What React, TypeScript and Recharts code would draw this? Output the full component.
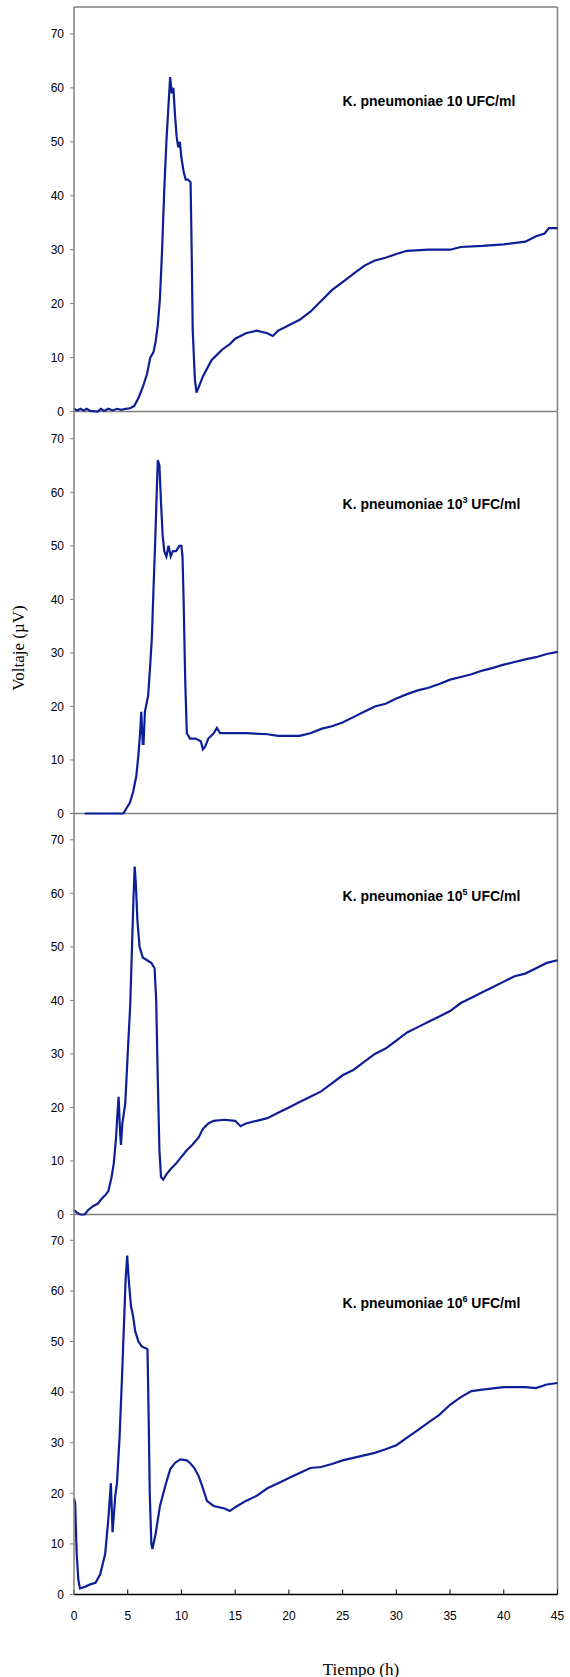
import React from 'react';
import { LineChart, Line, XAxis, YAxis, ReferenceLine, ReferenceDot } from 'recharts';

// time (h), voltage (µV)
const K10: [number, number][] = [
  [0, 0.5], [0.3, 0.2], [0.6, 0.5], [0.9, 0.2], [1.2, 0.5], [1.5, 0.1], [2.2, 0], [2.5, 0.5],
  [2.8, 0.1], [3.2, 0.5], [3.6, 0.2], [4, 0.5], [4.4, 0.3], [4.8, 0.5], [5.2, 0.6], [5.6, 1],
  [6, 2.5], [6.4, 4.5], [6.8, 7], [7.1, 10], [7.4, 11], [7.6, 13], [7.8, 16], [8, 21],
  [8.2, 30], [8.4, 41], [8.6, 50], [8.8, 57], [8.95, 62], [9.1, 59], [9.25, 60], [9.4, 55],
  [9.55, 51], [9.7, 49], [9.85, 50], [10, 47], [10.2, 44.5], [10.4, 43], [10.6, 43], [10.85, 42.5],
  [10.95, 30], [11.05, 15], [11.25, 6], [11.4, 3.5], [11.7, 5], [12, 6.5], [12.4, 8], [12.8, 9.5],
  [13.3, 10.5], [13.8, 11.5], [14.5, 12.5], [15, 13.5], [15.5, 14], [16, 14.5], [17, 15], [18, 14.5],
  [18.5, 14], [19, 15], [19.5, 15.5], [20, 16], [21, 17], [22, 18.5], [23, 20.5], [24, 22.5],
  [25, 24], [26, 25.5], [27, 27], [28, 28], [29, 28.5], [30, 29.2], [31, 29.8], [33, 30],
  [35, 30], [36, 30.5], [38, 30.7], [40, 31], [42, 31.5], [43, 32.5], [43.8, 33], [44.2, 34], [45, 34],
];

const K1E3: [number, number][] = [
  [1, 0], [4.6, 0], [4.8, 0.7], [5.2, 2], [5.5, 4], [5.8, 7], [6, 11], [6.15, 15], [6.26, 19],
  [6.4, 13], [6.47, 13], [6.6, 19], [6.9, 22], [7.1, 28], [7.25, 33], [7.4, 42], [7.56, 51],
  [7.7, 60], [7.8, 66], [7.95, 65], [8.1, 58], [8.25, 52], [8.4, 49], [8.6, 48], [8.8, 50],
  [9, 48], [9.2, 49], [9.5, 49], [9.8, 50], [10, 50], [10.1, 48], [10.2, 40], [10.35, 25],
  [10.5, 15], [10.8, 14], [11.3, 14], [11.8, 13.5], [12, 12], [12.2, 12.5], [12.5, 14], [13, 15],
  [13.3, 16], [13.6, 15], [14, 15], [16, 15], [18, 14.8], [19, 14.5], [20, 14.5], [21, 14.5],
  [22, 15], [23, 15.8], [24, 16.3], [25, 17], [26, 18], [27, 19], [28, 20], [29, 20.5],
  [30, 21.5], [31, 22.3], [32, 23], [33, 23.5], [34, 24.2], [35, 25], [36, 25.5], [37, 26],
  [38, 26.7], [39, 27.2], [40, 27.8], [41, 28.3], [42, 28.8], [43, 29.2], [44, 29.8], [45, 30.2],
];

const K1E5: [number, number][] = [
  [0, 0.8], [0.3, 0.3], [0.6, 0], [1, 0], [1.3, 0.8], [1.8, 1.6], [2.2, 2], [2.6, 3], [3, 3.8],
  [3.2, 4.4], [3.5, 7], [3.7, 9.5], [3.9, 14], [4.05, 19], [4.15, 22], [4.3, 15], [4.37, 13],
  [4.5, 17], [4.77, 20.7], [5, 30], [5.23, 39], [5.4, 50], [5.55, 60], [5.65, 65], [5.75, 62],
  [5.9, 55], [6.1, 50], [6.4, 48], [6.8, 47.5], [7.2, 47], [7.5, 46], [7.65, 40], [7.8, 25],
  [7.95, 12], [8.1, 7], [8.3, 6.5], [8.6, 7.5], [9, 8.5], [9.5, 9.5], [10, 10.8], [10.5, 12],
  [11, 13], [11.6, 14.4], [12, 16], [12.5, 17], [13, 17.5], [14, 17.7], [15, 17.5], [15.5, 16.5],
  [16, 17], [17, 17.5], [18, 18], [19, 19], [20, 20], [21, 21], [22, 22], [23, 23], [24, 24.5],
  [25, 26], [26, 27], [27, 28.5], [28, 30], [29, 31], [30, 32.5], [31, 34], [32, 35], [33, 36],
  [34, 37], [35, 38], [36, 39.5], [37, 40.5], [38, 41.5], [39, 42.5], [40, 43.5], [41, 44.5],
  [42, 45], [43, 46], [44, 47], [45, 47.5],
];

const K1E6: [number, number][] = [
  [0, 19], [0.11, 18], [0.25, 8], [0.4, 3], [0.55, 1.2], [1, 1.5], [1.5, 2], [2, 2.3], [2.44, 4],
  [2.9, 8], [3.2, 15], [3.43, 22], [3.59, 12.3], [3.84, 19.5], [4, 22], [4.24, 31], [4.45, 42],
  [4.61, 51], [4.8, 62], [4.95, 67], [5.1, 62], [5.3, 57], [5.5, 55], [5.7, 52], [6, 50],
  [6.32, 49], [6.84, 48.5], [6.95, 35], [7.05, 20], [7.2, 10], [7.3, 9], [7.6, 12], [8, 17.5],
  [8.5, 21.5], [8.96, 24.8], [9.4, 26], [9.89, 26.7], [10.5, 26.5], [10.8, 26], [11.2, 25],
  [11.6, 23.4], [12, 21], [12.37, 18.5], [13, 17.5], [14, 17], [14.5, 16.5], [15.2, 17.5],
  [16, 18.5], [17, 19.5], [18, 21], [19, 22], [20, 23], [21, 24], [22, 25], [23, 25.2],
  [24, 25.8], [25, 26.5], [26, 27], [27, 27.5], [28, 28], [29, 28.7], [30, 29.5], [31, 31],
  [32, 32.5], [33, 34], [34, 35.5], [35, 37.5], [36, 39], [37, 40.2], [38, 40.5], [40, 41],
  [42, 41], [43, 40.8], [44, 41.5], [45, 41.8],
];

const Y_TICKS = [0, 10, 20, 30, 40, 50, 60, 70];
const X_TICKS = [0, 5, 10, 15, 20, 25, 30, 35, 40, 45];

const SANS = '"Liberation Sans", Arial, sans-serif';
const SERIF = '"Liberation Serif", "Times New Roman", serif';
const LINE = '#0d1f96';
const GRAY = '#808080';

const PANELS = [
  { data: K10, exp: '', titleY: 57.6, top: 7, height: 404.5 },
  { data: K1E3, exp: '3', titleY: 57.8, top: 411.5, height: 401.5 },
  { data: K1E5, exp: '5', titleY: 59.5, top: 813, height: 401.5 },
  { data: K1E6, exp: '6', titleY: 57.6, top: 1214.5, height: 379.5 },
];

function Title({ cx, cy, exp }: { cx?: number; cy?: number; exp: string }) {
  if (cx == null || cy == null) return null;
  return (
    <text x={cx} y={cy + 5} fontFamily={SANS} fontWeight={700} fontSize={14} fill="#000">
      K. pneumoniae 10
      {exp ? (
        <>
          <tspan dy={-6} fontSize={9}>{exp}</tspan>
          <tspan dy={6}> UFC/ml</tspan>
        </>
      ) : (
        ' UFC/ml'
      )}
    </text>
  );
}

function Panel({ idx }: { idx: number }) {
  const p = PANELS[idx];
  const last = idx === PANELS.length - 1;
  const rows = p.data.map(([t, v]) => ({ t, v }));
  const pad = 10;
  const bottom = last ? 40 : pad;
  return (
    <div style={{ position: 'absolute', left: 0, top: p.top - pad }}>
      <LineChart
        width={570}
        height={p.height + pad + bottom}
        data={rows}
        margin={{ top: pad, right: 12.5, bottom: last ? 0 : pad, left: 0 }}
      >
        <XAxis
          dataKey="t"
          type="number"
          domain={[0, 45]}
          ticks={X_TICKS}
          interval={0}
          hide={!last}
          height={40}
          axisLine={{ stroke: '#000', strokeWidth: 1.5 }}
          tickLine={{ stroke: '#000' }}
          tickSize={-5}
          tickMargin={22}
          tick={{ fill: '#000', fontSize: 12, fontFamily: SANS }}
        />
        <YAxis
          type="number"
          domain={[0, 75]}
          ticks={Y_TICKS}
          interval={0}
          width={74}
          axisLine={{ stroke: GRAY, strokeWidth: 1.5 }}
          tickLine={{ stroke: GRAY }}
          tickSize={4}
          tickMargin={6}
          tick={{ fill: '#000', fontSize: 12, fontFamily: SANS }}
        />
        {idx === 0 && <ReferenceLine y={75} stroke={GRAY} strokeWidth={1.5} />}
        {!last && <ReferenceLine y={0} stroke={GRAY} strokeWidth={1.5} />}
        <ReferenceLine x={45} stroke={GRAY} strokeWidth={1.5} />
        <Line
          type="linear"
          dataKey="v"
          stroke={LINE}
          strokeWidth={2.2}
          dot={false}
          isAnimationActive={false}
        />
        <ReferenceDot
          x={25}
          y={p.titleY}
          r={0}
          shape={(props: any) => <Title cx={props.cx} cy={props.cy} exp={p.exp} />}
        />
      </LineChart>
    </div>
  );
}

export default function App() {
  return (
    <div style={{ position: 'absolute', left: 0, top: 0, width: 570, height: 1677, background: '#fff' }}>
      {PANELS.map((_, i) => (
        <Panel key={i} idx={i} />
      ))}
      <div
        style={{
          position: 'absolute',
          left: 19,
          top: 648,
          transform: 'translate(-50%, -50%) rotate(-90deg)',
          fontFamily: SERIF,
          fontSize: 17,
          whiteSpace: 'nowrap',
        }}
      >
        Voltaje (µV)
      </div>
      <div
        style={{
          position: 'absolute',
          left: 361,
          top: 1670,
          transform: 'translate(-50%, -50%)',
          fontFamily: SERIF,
          fontSize: 17,
          whiteSpace: 'nowrap',
        }}
      >
        Tiempo (h)
      </div>
    </div>
  );
}
